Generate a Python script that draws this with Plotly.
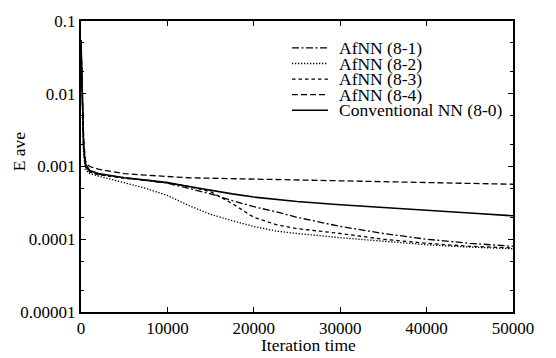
import plotly.graph_objects as go

# ---------------- data ----------------
iterations = [0, 150, 300, 500, 1000, 2000, 3500, 5000, 7500, 10000, 12500,
              15000, 17500, 20000, 22500, 25000, 30000, 35000, 40000, 45000, 50000]

afnn_8_1 = [0.05, 0.008, 0.0018, 0.001, 0.00085, 0.00078, 0.00074, 0.0007, 0.00065,
            0.00059, 0.0005, 0.00042, 0.00034, 0.00028, 0.00024, 0.0002, 0.00015,
            0.00012, 0.0001, 0.000088, 0.00008]
afnn_8_2 = [0.05, 0.007, 0.0015, 0.0009, 0.0008, 0.00074, 0.00067, 0.0006, 0.0005,
            0.0004, 0.00029, 0.00022, 0.00018, 0.00015, 0.00013, 0.00012, 0.000105,
            0.000093, 0.000084, 0.000078, 0.000074]
afnn_8_3 = [0.05, 0.008, 0.0018, 0.001, 0.00084, 0.00077, 0.00073, 0.00069, 0.00065,
            0.0006, 0.00053, 0.00045, 0.00031, 0.0002, 0.00016, 0.00014, 0.00012,
            0.0001, 0.000088, 0.00008, 0.000076]
afnn_8_4 = [0.055, 0.01, 0.0025, 0.0012, 0.001, 0.00092, 0.00085, 0.0008, 0.00076,
            0.00073, 0.0007, 0.00069, 0.00068, 0.00067, 0.00066, 0.00065, 0.00063,
            0.00061, 0.0006, 0.00058, 0.00057]
conventional_8_0 = [0.055, 0.009, 0.002, 0.0011, 0.00088, 0.0008, 0.00075, 0.0007,
                    0.00065, 0.0006, 0.00053, 0.00047, 0.00042, 0.00038, 0.000355,
                    0.00033, 0.000298, 0.00027, 0.00025, 0.00023, 0.00021]

series_names = ["AfNN (8-1)", "AfNN (8-2)", "AfNN (8-3)", "AfNN (8-4)",
                "Conventional NN (8-0)"]
series_values = [afnn_8_1, afnn_8_2, afnn_8_3, afnn_8_4, conventional_8_0]

x_tick_vals = [0, 10000, 20000, 30000, 40000, 50000]
x_tick_text = ["0", "10000", "20000", "30000", "40000", "50000"]
y_tick_vals = [0.00001, 0.0001, 0.001, 0.01, 0.1]
y_tick_text = ["0.00001", "0.0001", "0.001", "0.01", "0.1"]
y_minor_vals = [m * d for d in [0.00001, 0.0001, 0.001, 0.01] for m in (2, 5)]

x_title = "Iteration time"
y_title = "E ave"

# ---------------- styles ----------------
dashes = ["7px,2.5px,2px,2.5px", "1.3px,1.7px", "3.5px,3px", "6px,3px", "solid"]
widths = [1.3, 1.3, 1.3, 1.3, 1.6]
FONT = "Liberation Serif, Times New Roman, serif"

W, H = 556, 358
ML, MR, MT, MB = 81, 43, 15, 46
PW, PH = W - ML - MR, H - MT - MB


def px_x(px):
    return (px - ML) / PW


def px_y(py):
    return (H - MB - py) / PH


fig = go.Figure()
for name, vals, dash, w in zip(series_names, series_values, dashes, widths):
    fig.add_trace(go.Scatter(x=iterations, y=vals, mode="lines", name=name,
                             line=dict(color="black", width=w, dash=dash),
                             showlegend=False))

# custom compact legend (rows as tight as in the reference)
shapes = []
annotations = []
row0, gap = 42.5, 15.9
for i, (name, dash, w) in enumerate(zip(series_names, dashes, widths)):
    yy = px_y(row0 + i * gap)
    shapes.append(dict(type="line", xref="paper", yref="paper",
                       x0=px_x(292), x1=px_x(328), y0=yy, y1=yy,
                       line=dict(color="black", width=w, dash=dash)))
    annotations.append(dict(xref="paper", yref="paper", x=px_x(337), y=yy,
                            text=name, showarrow=False, xanchor="left",
                            yanchor="middle",
                            font=dict(family=FONT, size=17.5, color="black")))

annotations.append(dict(xref="paper", yref="paper", x=px_x(308), y=px_y(346),
                        text=x_title, showarrow=False, xanchor="center",
                        yanchor="middle",
                        font=dict(family=FONT, size=17.5, color="black")))
annotations.append(dict(xref="paper", yref="paper", x=px_x(19), y=px_y(148),
                        text=y_title, showarrow=False, textangle=-90,
                        xanchor="center", yanchor="middle",
                        font=dict(family=FONT, size=17.5, color="black")))

fig.update_layout(
    width=W, height=H,
    margin=dict(l=ML, r=MR, t=MT, b=MB, pad=0),
    paper_bgcolor="white", plot_bgcolor="white",
    font=dict(family=FONT, size=17, color="black"),
    shapes=shapes, annotations=annotations,
    showlegend=False,
)
fig.update_xaxes(range=[0, 50000], tickmode="array", tickvals=x_tick_vals,
                 ticktext=x_tick_text, ticks="inside", ticklen=5, tickwidth=1,
                 tickcolor="black", showline=True, linecolor="black", linewidth=2,
                 mirror="ticks", showgrid=False, zeroline=False,
                 tickfont=dict(family=FONT, size=17, color="black"))
fig.update_yaxes(type="log", range=[-5, -1], tickmode="array", tickvals=y_tick_vals,
                 ticktext=y_tick_text, ticks="inside", ticklen=5, tickwidth=1,
                 tickcolor="black", showline=True, linecolor="black", linewidth=2,
                 mirror="ticks", showgrid=False, zeroline=False,
                 minor=dict(tickmode="array", tickvals=y_minor_vals, ticks="inside",
                            ticklen=3, tickcolor="black", showgrid=False),
                 tickfont=dict(family=FONT, size=17, color="black"))

fig.write_html("out.html")
